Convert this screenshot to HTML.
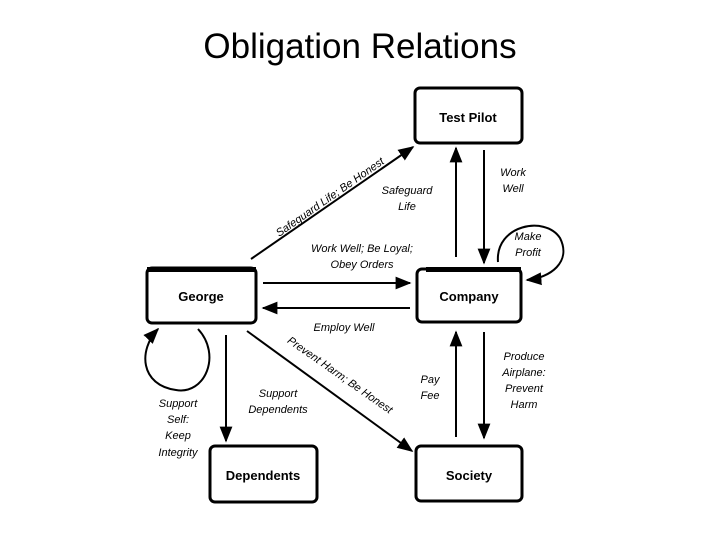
<!DOCTYPE html>
<html><head><meta charset="utf-8"><style>
html,body{margin:0;padding:0;background:#fff;width:720px;height:540px;overflow:hidden}
svg{display:block}
text{font-family:"Liberation Sans",Arial,sans-serif}
.b{font-weight:bold;font-size:13px}
.i{font-style:italic;font-size:11px}
</style></head><body>
<svg width="720" height="540" viewBox="0 0 720 540">
<defs><marker id="a" viewBox="0 0 10 10" refX="9" refY="5" markerWidth="7" markerHeight="7" orient="auto" markerUnits="userSpaceOnUse"><path d="M0,0 L10,5 L0,10z" fill="#000"/></marker>
<marker id="m" viewBox="0 0 10 10" refX="9" refY="5" markerWidth="16" markerHeight="16" orient="auto" markerUnits="userSpaceOnUse"><path d="M0,1 L10,5 L0,9z" fill="#000"/></marker></defs>
<text x="360" y="58" text-anchor="middle" font-size="35">Obligation Relations</text>
<g fill="#fff" stroke="#000" stroke-width="3">
<rect x="415" y="88" width="107" height="55" rx="5"/>
<rect x="147" y="268" width="109" height="55" rx="5"/>
<rect x="417" y="269" width="104" height="53" rx="5"/>
<rect x="210" y="446" width="107" height="56" rx="5"/>
<rect x="416" y="446" width="106" height="55" rx="5"/>
</g>
<rect x="147" y="267" width="109" height="5" fill="#000"/>
<rect x="426" y="267" width="95" height="5" fill="#000"/>
<g class="b" text-anchor="middle">
<text x="468" y="122">Test Pilot</text>
<text x="201" y="301">George</text>
<text x="469" y="301">Company</text>
<text x="263" y="480">Dependents</text>
<text x="469" y="480">Society</text>
</g>
<g stroke="#000" stroke-width="2" fill="none" marker-end="url(#m)">
<line x1="251" y1="259" x2="413" y2="147"/>
<line x1="456" y1="257" x2="456" y2="148"/>
<line x1="484" y1="150" x2="484" y2="263"/>
<line x1="263" y1="283" x2="410" y2="283"/>
<line x1="410" y1="308" x2="263" y2="308"/>
<line x1="456" y1="437" x2="456" y2="332"/>
<line x1="484" y1="332" x2="484" y2="438"/>
<line x1="226" y1="335" x2="226" y2="441"/>
<line x1="247" y1="331" x2="412" y2="451"/>
<path d="M498,262 C495,225 545,215 560,238 C572,262 550,278 527,280"/>
<path d="M198,329 C222,355 205,395 176,390 C140,385 138,350 158,329"/>
</g>
<g class="i" text-anchor="middle">
<text transform="translate(332,200) rotate(-35)">Safeguard Life; Be Honest</text>
<text transform="translate(338,378) rotate(35)">Prevent Harm; Be Honest</text>
<text x="407" y="194">Safeguard</text><text x="407" y="210">Life</text>
<text x="513" y="176">Work</text><text x="513" y="192">Well</text>
<text x="528" y="240">Make</text><text x="528" y="256">Profit</text>
<text x="362" y="252">Work Well; Be Loyal;</text><text x="362" y="268">Obey Orders</text>
<text x="344" y="331">Employ Well</text>
<text x="524" y="360">Produce</text><text x="524" y="376">Airplane:</text><text x="524" y="392">Prevent</text><text x="524" y="408">Harm</text>
<text x="430" y="383">Pay</text><text x="430" y="399">Fee</text>
<text x="278" y="397">Support</text><text x="278" y="413">Dependents</text>
<text x="178" y="407">Support</text><text x="178" y="423">Self:</text><text x="178" y="439">Keep</text><text x="178" y="456">Integrity</text>
</g>
</svg>
</body></html>
